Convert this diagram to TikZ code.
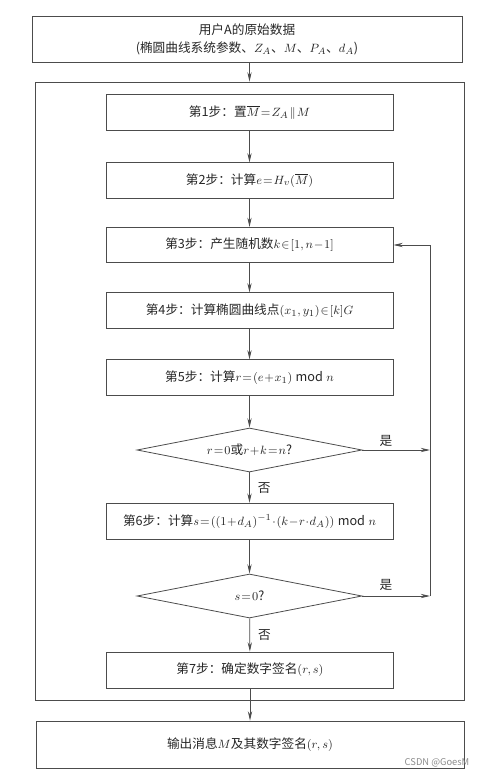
\documentclass[tikz,border=0pt]{standalone}
\usepackage{fontspec}
\setmainfont{Noto Sans CJK SC}
\usetikzlibrary{shapes.geometric,arrows.meta}
\thickmuskip=1.5mu
\medmuskip=1mu

\begin{document}
\begin{tikzpicture}[x=0.75pt,y=0.75pt,yscale=-1,xscale=1,
  every node/.style={font=\fontsize{9.5pt}{13.5pt}\selectfont, text=black!85},
  stepbox/.style={draw=black!70, line width=0.6pt, minimum width=215.25pt, minimum height=26.5pt, inner sep=0pt},
  bigbox/.style={draw=black!70, line width=0.6pt, minimum width=322.5pt, minimum height=34.5pt, inner sep=0pt, align=center},
  testbox/.style={diamond, draw=black!70, line width=0.6pt, aspect=5.1, minimum width=168.75pt, minimum height=33pt, inner sep=0pt},
  arr/.style={draw=black!70, line width=0.6pt, -{Stealth[length=7pt,width=3.2pt]}},
  yesno/.style={inner sep=2pt}
]
\path[use as bounding box] (0,0) rectangle (490,777);

%Shape: Rectangle [input]
\node[bigbox] (src) at (247,39) {用户A的原始数据\\(椭圆曲线系统参数、$Z_A$、$M$、$P_A$、$d_A$)};
%Shape: Rectangle [frame]
\node[draw=black!70, line width=0.6pt, minimum width=321.75pt, minimum height=463.5pt, inner sep=0pt] (frame) at (249.5,391) {};

%Shape: Rectangle [steps]
\node[stepbox] (s1) at (249.5,112.5) {第1步：置$\overline{M}=Z_A\parallel M$};
\node[stepbox] (s2) at (249.5,180.5) {第2步：计算$e=H_v(\overline{M})$};
\node[stepbox] (s3) at (249.5,245) {第3步：产生随机数$k\in[1,n-1]$};
\node[stepbox] (s4) at (249.5,310.5) {第4步：计算椭圆曲线点$(x_1,y_1)\in[k]G$};
\node[stepbox] (s5) at (249.5,377.5) {第5步：计算$r=(e+x_1)\bmod n$};
%Shape: Diamond
\node[testbox] (d1) at (249.5,450) {$r=0$或$r+k=n$?};
\node[stepbox, minimum height=27.5pt] (s6) at (249.5,521.5) {第6步：计算$s=((1+d_A)^{-1}\cdot(k-r\cdot d_A))\bmod n$};
%Shape: Diamond
\node[testbox] (d2) at (249.5,596) {$s=0$?};
\node[stepbox, minimum height=27pt] (s7) at (250,670) {第7步：确定数字签名$(r,s)$};

%Shape: Rectangle [output]
\node[bigbox, minimum width=321pt, minimum height=35.25pt] (out) at (250,744.5) {输出消息$M$及其数字签名$(r,s)$};

\coordinate (back) at (430,245);

%Straight Lines
\draw[arr] (src.south -| s1) -- (frame.north -| s1);
\draw[arr] (s1) -- (s2);
\draw[arr] (s2) -- (s3);
\draw[arr] (s3) -- (s4);
\draw[arr] (s4) -- (s5);
\draw[arr] (s5) -- (d1);
\draw[arr] (d1) -- node[right, yesno, xshift=4pt] {否} (s6);
\draw[arr] (s6) -- (d2);
\draw[arr] (d2) -- node[right, yesno, xshift=4pt] {否} (s7);
\draw[arr] (s7) -- (s7 |- out.north);

%Straight Lines [loop back]
\draw[arr] (d1.east) -- node[pos=0.35, above, yesno] {是} (d1.east -| back);
\draw[arr] (d2.east) -- node[pos=0.35, above, yesno, yshift=2pt] {是} (d2.east -| back);
\draw[arr] (d2.east -| back) -- (back) -- (s3.east);

% Text Node
\node[anchor=east, font=\fontsize{7pt}{8pt}\selectfont, text=black!45] (mark) at (474,763) {CSDN @GoesM};

\end{tikzpicture}
\end{document}
